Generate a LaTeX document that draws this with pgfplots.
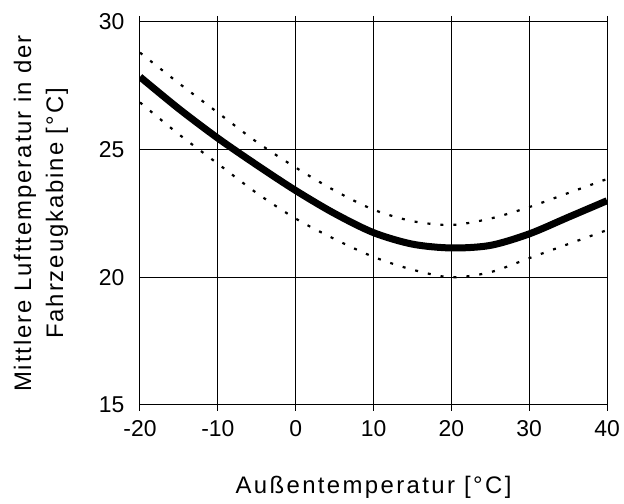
\documentclass[border=0pt]{standalone}
\usepackage{fontspec}
\setmainfont{Liberation Sans}
\usepackage{pgfplots}
\pgfplotsset{compat=1.18}
\begin{document}
\begin{tikzpicture}[x=1bp,y=1bp]
\path[use as bounding box] (-140,-99) rectangle (484,405);
\begin{axis}[
  at={(0,0)}, anchor=south west,
  scale only axis,
  width=467bp, height=383bp,
  xmin=-20, xmax=40, ymin=15, ymax=30,
  xtick={-20,-10,...,40}, ytick={15,20,25,30},
  grid=major,
  grid style={black, line width=1bp},
  axis line style={black, line width=1bp},
  tick style={black, line width=1bp},
  major tick length=12bp,
  tick align=center,
  ytick style={draw=none},
  /pgf/number format/assume math mode=true,
  ticklabel style={font=\fontsize{23}{26}\selectfont},
  xticklabel style={yshift=-6bp},
  yticklabel style={xshift=-6bp},
  xlabel={\addfontfeatures{LetterSpace=10}Außentemperatur [°C]},
  ylabel={\addfontfeatures{LetterSpace=8}Mittlere Lufttemperatur in der\\\addfontfeatures{LetterSpace=8}Fahrzeugkabine [°C]},
  label style={font=\fontsize{24}{32}\selectfont, align=center},
  xlabel style={at={(axis description cs:0.5,0)}, anchor=center, yshift=-82bp},
  ylabel style={at={(axis description cs:0,0.5)}, anchor=center, yshift=99bp},
  clip=true,
]
\addplot[black, line width=7bp, smooth] coordinates {
(-20,27.85)(-15,26.6)(-10,25.45)(-5,24.4)(0,23.4)(5,22.5)(10,21.75)(15,21.3)(20,21.15)(25,21.25)(30,21.7)(35,22.35)(40,23.0)};
\addplot[black, line width=2.2bp, smooth, dash pattern=on 3bp off 10bp] coordinates {
(-20,28.8)(-15,27.6)(-10,26.45)(-5,25.3)(0,24.3)(5,23.4)(10,22.65)(15,22.2)(20,22.05)(25,22.3)(30,22.75)(35,23.3)(40,23.85)};
\addplot[black, line width=2.2bp, smooth, dash pattern=on 3bp off 10bp] coordinates {
(-20,26.85)(-15,25.6)(-10,24.45)(-5,23.3)(0,22.3)(5,21.5)(10,20.8)(15,20.3)(20,20.0)(25,20.2)(30,20.75)(35,21.3)(40,21.85)};
\end{axis}
\end{tikzpicture}
\end{document}
